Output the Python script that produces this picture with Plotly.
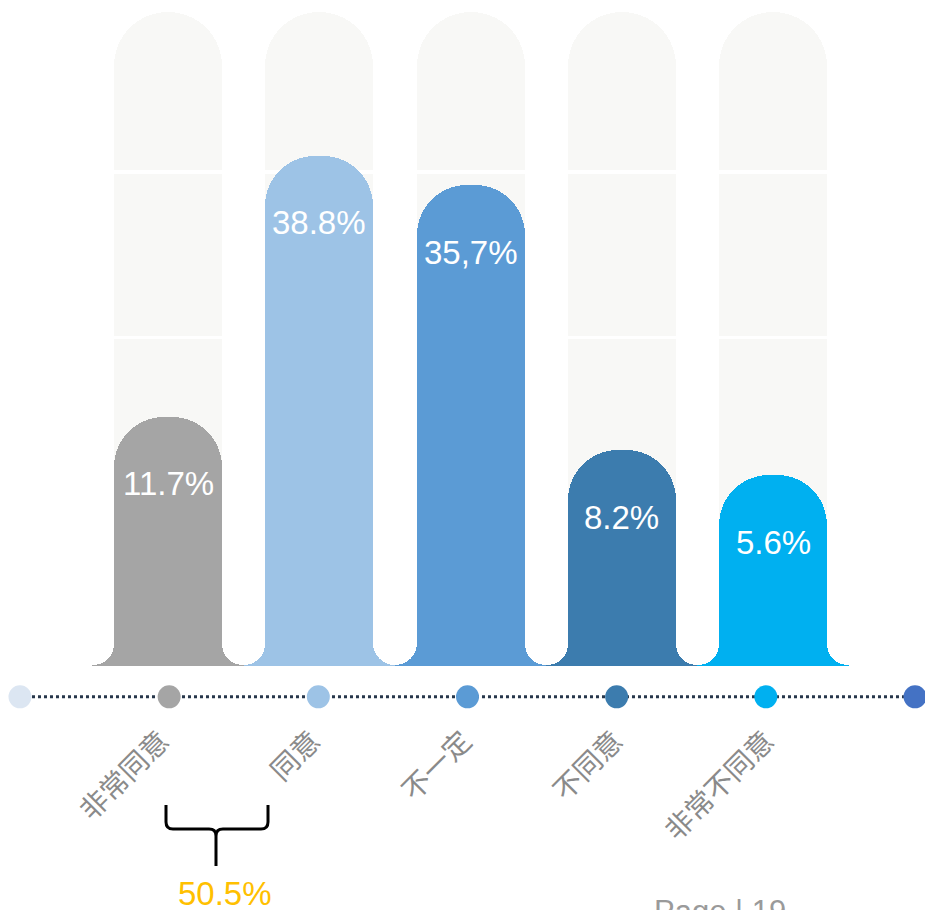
import plotly.graph_objects as go

# ---- data ----
categories = ["非常同意", "同意", "不一定", "不同意", "非常不同意"]
values = [11.7, 38.8, 35.7, 8.2, 5.6]
value_labels = ["11.7%", "38.8%", "35,7%", "8.2%", "5.6%"]
bar_colors = ["#A5A5A5", "#9DC3E6", "#5B9BD5", "#3C7CAE", "#00B0F0"]
dot_x = [-1, 0, 1, 2, 3, 4, 5]
dot_colors = ["#DCE6F2", "#A5A5A5", "#9DC3E6", "#5B9BD5", "#3C7CAE", "#00B0F0", "#4472C4"]
bg_top = 53.7                 # background column height
bg_separators = [19.9, 37.1]  # white lines across the background columns
axis_floor = -14.2            # bars rise from here
timeline_y = -17.4
sum_label = "50.5%"
page_label = "Page | 19"

W, H = 925, 910
PLOT_H = 720
Y_MAX = 54.96
Y_MIN = Y_MAX - PLOT_H / 9.63
X_RANGE = [-1.111, 5.005]
X2_RANGE = [-1.134, 5.067]
BW = 0.714

def px_to_paper(px, py):
    return px / W, (PLOT_H - py) / PLOT_H

fig = go.Figure()
xs = list(range(len(categories)))
n = len(xs)

# background columns
fig.add_trace(go.Bar(
    x=xs, y=[bg_top - axis_floor] * n, base=[axis_floor] * n, width=BW,
    marker=dict(color="#F8F8F6", line=dict(width=0), cornerradius="50%"),
    hoverinfo="skip", showlegend=False))
# white separators on background columns
for s in bg_separators:
    fig.add_trace(go.Bar(
        x=xs, y=[0.38] * n, base=[s - 0.19] * n, width=BW + 0.02,
        marker=dict(color="white", line=dict(width=0)),
        hoverinfo="skip", showlegend=False))

# base strip (gives flared feet)
fig.add_trace(go.Bar(
    x=xs, y=[6.0] * n, base=[axis_floor] * n, width=1.0,
    marker=dict(color=bar_colors, line=dict(width=0)),
    hoverinfo="skip", showlegend=False))

# main bars
fig.add_trace(go.Bar(
    x=xs, y=[v - axis_floor for v in values], base=[axis_floor] * n,
    width=BW, marker=dict(color=bar_colors, line=dict(width=0), cornerradius=50),
    hoverinfo="skip", showlegend=False))

# white gaps with rounded bottoms
gap_x = [i - 0.5 for i in range(n + 1)]
top = 60
fig.add_trace(go.Bar(
    x=gap_x, y=[(axis_floor + 0.15) - top] * len(gap_x), base=[top] * len(gap_x),
    width=1 - BW, marker=dict(color="white", line=dict(width=0), cornerradius="50%"),
    hoverinfo="skip", showlegend=False))

# timeline
fig.add_trace(go.Scatter(
    x=dot_x, y=[timeline_y] * len(dot_x), xaxis="x2", mode="lines+markers",
    line=dict(color="#26364A", width=3, dash="dot"),
    marker=dict(size=23, color=dot_colors, line=dict(width=0)),
    cliponaxis=False, hoverinfo="skip", showlegend=False))

annotations = []
# value labels
for i, (v, t) in enumerate(zip(values, value_labels)):
    annotations.append(dict(x=i, y=v, xref="x", yref="y", text=t, showarrow=False,
                            yshift=-67, font=dict(family="Liberation Sans", size=33, color="white")))

bx, by = px_to_paper(225, 893)
annotations.append(dict(x=bx, y=by, xref="paper", yref="paper", text=sum_label,
                        xanchor="center", yanchor="middle", showarrow=False,
                        font=dict(family="Liberation Sans", size=33, color="#FFC000")))
px_, py_ = px_to_paper(652, 892)
annotations.append(dict(x=px_, y=py_, xref="paper", yref="paper", text=page_label,
                        xanchor="left", yanchor="top", showarrow=False,
                        font=dict(family="Liberation Sans", size=31, color="#9A9A9A")))

# bracket
def P(x, y):
    a, b = px_to_paper(x, y)
    return f"{a:.5f},{b:.5f}"
path = (f"M {P(166,805)} L {P(166,822)} Q {P(166,829)} {P(173,829)} L {P(209,829)} "
        f"Q {P(216,829)} {P(216,836)} L {P(216,866)} M {P(216,836)} Q {P(216,829)} {P(223,829)} "
        f"L {P(261,829)} Q {P(268,829)} {P(268,822)} L {P(268,805)}")
shapes = [dict(type="path", xref="paper", yref="paper", path=path,
               line=dict(color="black", width=3))]

fig.update_layout(
    width=W, height=H, barmode="overlay", bargap=0,
    margin=dict(l=0, r=0, t=0, b=H - PLOT_H),
    paper_bgcolor="white", plot_bgcolor="white",
    xaxis=dict(range=X_RANGE, tickmode="array", tickvals=xs, ticktext=categories,
               tickangle=-45, showgrid=False, zeroline=False, showline=False, ticks="",
               ticklabelstandoff=-2, ticklabelshift=-7,
               tickfont=dict(family="Noto Sans CJK SC", size=28, color="#8A8A8A")),
    xaxis2=dict(range=X2_RANGE, overlaying="x", visible=False),
    yaxis=dict(range=[Y_MIN, Y_MAX], showgrid=False, zeroline=False, showticklabels=False),
    annotations=annotations, shapes=shapes,
)
fig.write_html("out.html", config={"displayModeBar": False},
               post_script="document.body.style.margin='0';document.body.style.overflow='hidden';")
